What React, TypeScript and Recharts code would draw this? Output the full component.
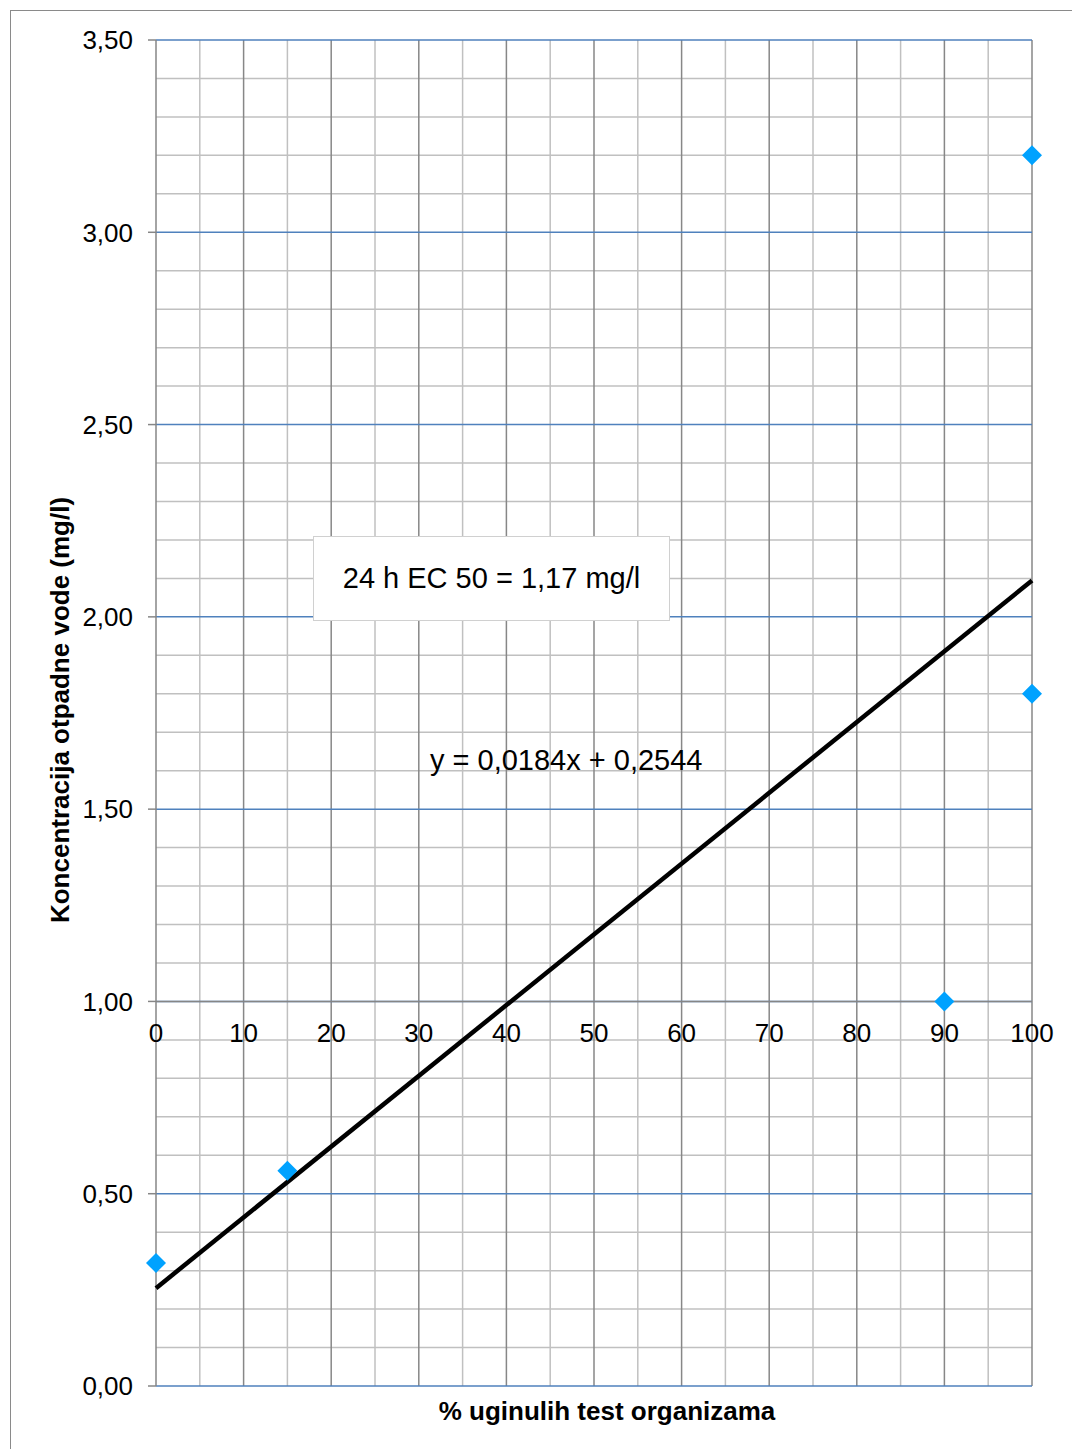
import React from 'react';
import {
  ScatterChart,
  Scatter,
  XAxis,
  YAxis,
  ReferenceLine,
  ReferenceDot,
} from 'recharts';

// measured points (% dead organisms vs. concentration)
const measured = [
  { x: 0, y: 0.32 },
  { x: 15, y: 0.56 },
  { x: 90, y: 1.0 },
  { x: 100, y: 1.8 },
  { x: 100, y: 3.2 },
];

// linear trendline ends, y = 0,0184x + 0,2544
const trendLine = [
  { x: 0, y: 0.2544 },
  { x: 100, y: 2.0944 },
];

const xTicks = [0, 10, 20, 30, 40, 50, 60, 70, 80, 90, 100];
const xMinor = [5, 15, 25, 35, 45, 55, 65, 75, 85, 95];
const yTicks = [0, 0.5, 1, 1.5, 2, 2.5, 3, 3.5];
const yMinor = [
  0.1, 0.2, 0.3, 0.4, 0.6, 0.7, 0.8, 0.9, 1.1, 1.2, 1.3, 1.4, 1.6, 1.7, 1.8, 1.9,
  2.1, 2.2, 2.3, 2.4, 2.6, 2.7, 2.8, 2.9, 3.1, 3.2, 3.3, 3.4,
];

const xTitle = '% uginulih test organizama';
const yTitle = 'Koncentracija otpadne vode (mg/l)';
const ecNote = '24 h EC 50 = 1,17 mg/l';
const equation = 'y = 0,0184x + 0,2544';

const FONT = '"Liberation Sans", Arial, sans-serif';

const fmt = (v: number) => v.toFixed(2).replace('.', ',');

const Diamond = (props: any) => {
  const { cx, cy } = props;
  const r = 10;
  return (
    <polygon
      points={`${cx},${cy - r} ${cx + r},${cy} ${cx},${cy + r} ${cx - r},${cy}`}
      fill="#00a2ff"
    />
  );
};

const App: React.FC = () => {
  return (
    <div style={{ position: 'absolute', left: 0, top: 0, width: 1072, height: 1449, overflow: 'hidden', background: '#fff', fontFamily: FONT }}>
      <div style={{ position: 'absolute', left: 10, top: 10, width: 1100, height: 1500, border: '1px solid #8a8a8a' }} />
      <ScatterChart
        width={1072}
        height={1449}
        margin={{ top: 40, right: 40, bottom: 0, left: 0 }}
        style={{ position: 'absolute', left: 0, top: 0, fontFamily: FONT }}
      >
        <XAxis
          type="number"
          dataKey="x"
          domain={[0, 100]}
          ticks={xTicks}
          tick={false}
          axisLine={false}
          tickLine={false}
          height={63}
          label={{
            content: ({ viewBox }: any) => (
              <text
                x={viewBox.x + viewBox.width / 2 + 13}
                y={viewBox.y + 34}
                textAnchor="middle"
                fontSize={26}
                fontWeight="bold"
                fontFamily={FONT}
                fill="#000"
              >
                {xTitle}
              </text>
            ),
          }}
        />
        <YAxis
          type="number"
          dataKey="y"
          domain={[0, 3.5]}
          ticks={yTicks}
          width={156}
          tickFormatter={fmt}
          tick={{ fontSize: 26, fill: '#000', fontFamily: FONT }}
          tickSize={8}
          tickMargin={15}
          axisLine={{ stroke: '#868686', strokeWidth: 1.5 }}
          tickLine={{ stroke: '#868686', strokeWidth: 1.5 }}
          label={{
            content: ({ viewBox }: any) => {
              const cx = viewBox.x + 69;
              const cy = viewBox.y + viewBox.height / 2 - 3;
              return (
                <text
                  x={cx}
                  y={cy}
                  transform={`rotate(-90, ${cx}, ${cy})`}
                  textAnchor="middle"
                  fontSize={26}
                  fontWeight="bold"
                  fontFamily={FONT}
                  fill="#000"
                >
                  {yTitle}
                </text>
              );
            },
          }}
        />
        {/* gridlines: minor gray, major gray verticals, major blue horizontals */}
        {yMinor.map((v) => (
          <ReferenceLine key={`ym${v}`} y={v} stroke="#c0c0c0" strokeWidth={1.5} />
        ))}
        {xMinor.map((v) => (
          <ReferenceLine key={`xm${v}`} x={v} stroke="#c0c0c0" strokeWidth={1.5} />
        ))}
        {xTicks.slice(1).map((v) => (
          <ReferenceLine key={`xM${v}`} x={v} stroke="#878787" strokeWidth={1.5} />
        ))}
        {yTicks.map((v) => (
          <ReferenceLine key={`yM${v}`} y={v} stroke="#4f81bd" strokeWidth={1.5} />
        ))}
        <ReferenceLine y={1} stroke="#868686" strokeWidth={1.5} />
        {xTicks.map((t) => (
          <ReferenceDot
            key={t}
            x={t}
            y={1}
            r={0}
            fill="none"
            stroke="none"
            label={{ value: String(t), position: 'bottom', offset: 22, fontSize: 26, fill: '#000', fontFamily: FONT }}
          />
        ))}
        <Scatter
          data={trendLine}
          line={{ stroke: '#000', strokeWidth: 4.5 }}
          shape={() => <g />}
          isAnimationActive={false}
        />
        <Scatter data={measured} shape={Diamond} isAnimationActive={false} />
      </ScatterChart>
      <div
        style={{
          position: 'absolute',
          left: 313,
          top: 536,
          width: 355,
          height: 83,
          border: '1px solid #d0d0d0',
          background: '#fff',
          display: 'flex',
          alignItems: 'center',
          justifyContent: 'center',
          fontSize: 29,
          color: '#000',
        }}
      >
        {ecNote}
      </div>
      <div style={{ position: 'absolute', left: 430, top: 744, fontSize: 29, color: '#000', whiteSpace: 'nowrap' }}>
        {equation}
      </div>
    </div>
  );
};

export default App;
